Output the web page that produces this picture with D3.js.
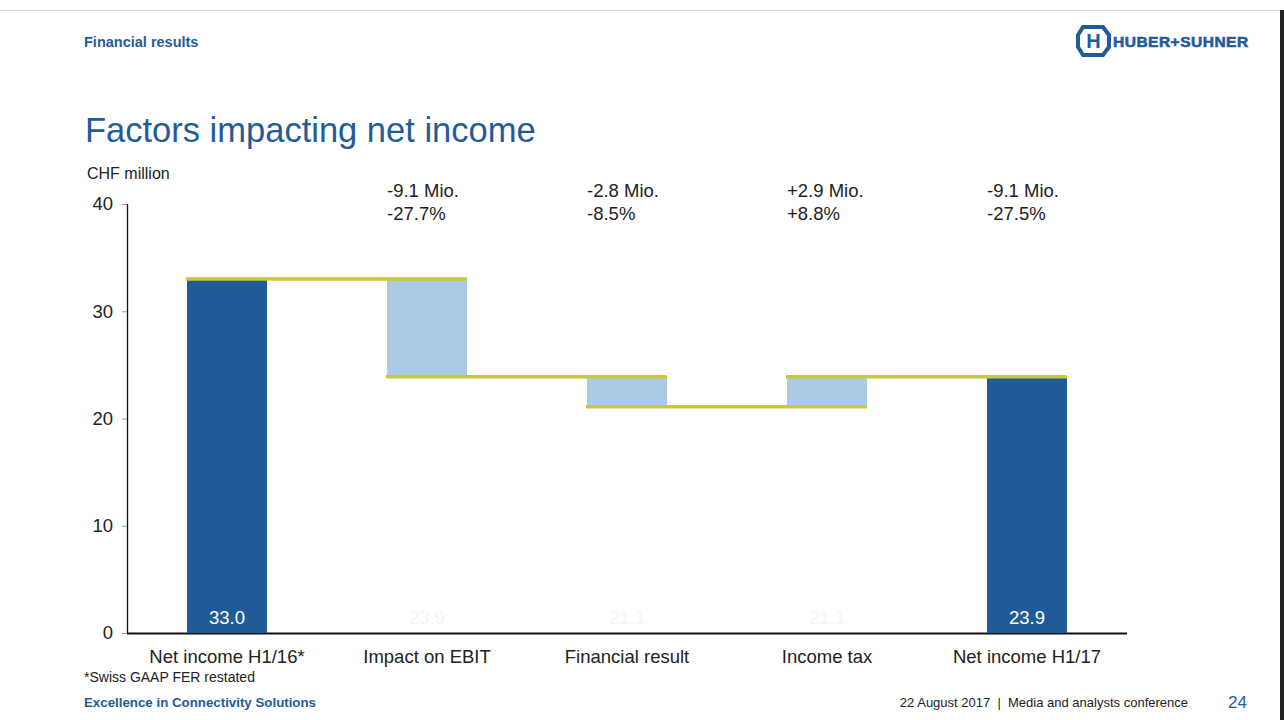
<!DOCTYPE html>
<html>
<head>
<meta charset="utf-8">
<script src="https://cdn.jsdelivr.net/npm/d3@7"></script>
<style>
  html, body { margin: 0; padding: 0; background: #fff; }
  svg { display: block; font-family: "Liberation Sans", Arial, sans-serif; }
</style>
</head>
<body>
<svg id="chart" width="1284" height="720"></svg>
<script>
// Net income bridge, CHF million
const categories = ["Net income H1/16*", "Impact on EBIT", "Financial result", "Income tax", "Net income H1/17"];
const barStart   = [0, 33.0, 23.9, 21.1, 0];
const barEnd     = [33.0, 23.9, 21.1, 23.9, 23.9];
const barKind    = ["total", "delta", "delta", "delta", "total"];
const valueLabels = ["33.0", "23.9", "21.1", "21.1", "23.9"];
const deltaMio   = [null, "-9.1 Mio.", "-2.8 Mio.", "+2.9 Mio.", "-9.1 Mio."];
const deltaPct   = [null, "-27.7%", "-8.5%", "+8.8%", "-27.5%"];
const yTicks     = [0, 10, 20, 30, 40];

const svg = d3.select("#chart");
const blue = "#1f5c99";
const light = "#abcbe5";
const connector = "#c9c83a";
const FONT = "Liberation Sans, Arial, sans-serif";

// slide frame
svg.append("line").attr("x1", 0).attr("x2", 1281).attr("y1", 10.5).attr("y2", 10.5)
  .attr("stroke", "#d8d8d8").attr("stroke-width", 1);
svg.append("rect").attr("x", 1280).attr("y", 10).attr("width", 4).attr("height", 710).attr("fill", "#222");

// header
svg.append("text").attr("x", 84).attr("y", 47).attr("font-size", 14.5).attr("font-weight", "bold")
  .attr("fill", blue).text("Financial results");

// logo
const logo = svg.append("g").attr("transform", "translate(1079,41)");
logo.append("path")
  .attr("d", "M-1,-6 L4,-14 L24,-14 L30,-6 L30,6 L24,14 L4,14 L-1,6 Z")
  .attr("fill", "none").attr("stroke", blue).attr("stroke-width", 4);
logo.append("text").attr("x", 14.5).attr("y", 7).attr("text-anchor", "middle")
  .attr("font-size", 20).attr("font-weight", "bold").attr("fill", blue).text("H");
logo.append("text").attr("x", 34).attr("y", 6).attr("font-size", 15.5).attr("font-weight", "900")
  .attr("fill", blue).attr("stroke", blue).attr("stroke-width", 0.6).attr("letter-spacing", 0.5)
  .text("HUBER+SUHNER");

// title
svg.append("text").attr("x", 85).attr("y", 142).attr("font-size", 34.5).attr("fill", blue)
  .text("Factors impacting net income");

svg.append("text").attr("x", 87).attr("y", 179).attr("font-size", 16).attr("fill", "#222")
  .text("CHF million");

// scales
const x = d3.scaleBand().domain(categories).range([127, 1127]).paddingInner(0.6).paddingOuter(0.3);
const y = d3.scaleLinear().domain([0, 40]).range([633, 204]);

// y axis
const yAxis = svg.append("g").attr("transform", "translate(127,0)")
  .call(d3.axisLeft(y).tickValues(yTicks).tickSize(5).tickPadding(9).tickFormat(d3.format("d")));
yAxis.select(".domain").attr("stroke", "#111").attr("stroke-width", 1.3).attr("d", "M0.5,204V633");
yAxis.selectAll(".tick line").attr("stroke", "#999");
yAxis.selectAll(".tick text").attr("font-size", 18.5).attr("fill", "#222").attr("font-family", FONT);

// x axis baseline and labels
const xAxis = svg.append("g").attr("transform", "translate(0,633)")
  .call(d3.axisBottom(x).tickSize(0).tickPadding(17));
xAxis.select(".domain").attr("stroke", "#111").attr("stroke-width", 2).attr("d", "M127,0.5H1127");
xAxis.selectAll(".tick text").attr("font-size", 18.5).attr("fill", "#222").attr("font-family", FONT);

// bars
const rows = categories.map((c, i) => ({ c, i, s: barStart[i], e: barEnd[i], kind: barKind[i] }));
svg.append("g").selectAll("rect").data(rows).join("rect")
  .attr("x", d => x(d.c))
  .attr("width", x.bandwidth())
  .attr("y", d => y(Math.max(d.s, d.e)))
  .attr("height", d => Math.abs(y(d.s) - y(d.e)))
  .attr("fill", d => d.kind === "total" ? blue : light);

// connectors: from end of each bar across to the next bar
const links = rows.slice(0, -1).map(d => ({ from: d.c, to: categories[d.i + 1], v: d.e }));
svg.append("g").selectAll("line").data(links).join("line")
  .attr("x1", d => x(d.from) - 1)
  .attr("x2", d => x(d.to) + x.bandwidth())
  .attr("y1", d => y(d.v)).attr("y2", d => y(d.v))
  .attr("stroke", connector).attr("stroke-width", 3.5);

// value labels inside the bars
svg.append("g").selectAll("text").data(rows).join("text")
  .attr("x", d => x(d.c) + x.bandwidth() / 2)
  .attr("y", y(0) - 9)
  .attr("text-anchor", "middle").attr("font-size", 18.5)
  .attr("fill", d => d.kind === "total" ? "#ffffff" : "#f6f6f6")
  .text(d => valueLabels[d.i]);

// change annotations
const notes = rows.filter(d => deltaMio[d.i]);
const ng = svg.append("g").selectAll("g").data(notes).join("g");
ng.append("text").attr("x", d => x(d.c)).attr("y", 197).attr("font-size", 18.5).attr("fill", "#222")
  .text(d => deltaMio[d.i]);
ng.append("text").attr("x", d => x(d.c)).attr("y", 220).attr("font-size", 18.5).attr("fill", "#222")
  .text(d => deltaPct[d.i]);

// footnote and footer
svg.append("text").attr("x", 84).attr("y", 682).attr("font-size", 14).attr("fill", "#222")
  .text("*Swiss GAAP FER restated");
svg.append("text").attr("x", 84).attr("y", 707).attr("font-size", 13.3).attr("font-weight", "bold")
  .attr("fill", blue).text("Excellence in Connectivity Solutions");
svg.append("text").attr("x", 1188).attr("y", 707).attr("text-anchor", "end").attr("font-size", 13)
  .attr("fill", "#222").text("22 August 2017\u00a0\u00a0|\u00a0\u00a0Media and analysts conference");
svg.append("text").attr("x", 1228).attr("y", 708).attr("font-size", 17).attr("fill", blue).text("24");
</script>
</body>
</html>
